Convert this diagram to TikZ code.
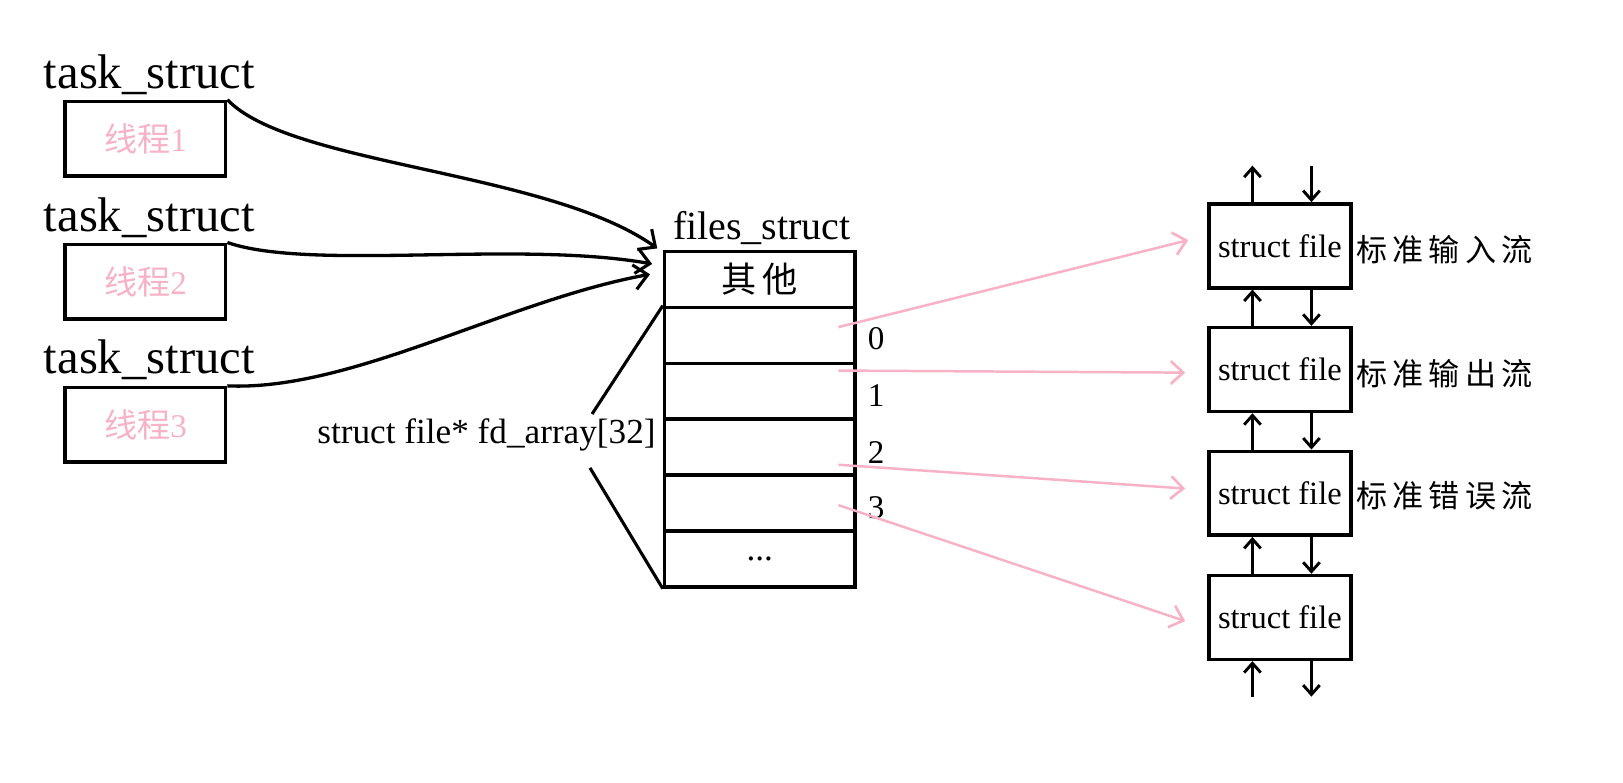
\documentclass[tikz,border=0pt]{standalone}
\usepackage{fontspec}
\setmainfont{Liberation Serif}
\newfontfamily\cjk{Noto Sans CJK SC}
\usetikzlibrary{arrows.meta,calc}
\definecolor{pinkc}{RGB}{247,178,198}
\begin{document}
\begin{tikzpicture}[x=0.5pt,y=-0.5pt,
  taskbox/.style={draw,line width=1.7pt,inner sep=0pt,minimum width=77.5pt,minimum height=36pt,
    text=pinkc,font=\fontsize{16}{18}\selectfont},
  tasklabel/.style={anchor=west,inner sep=0pt,font=\fontsize{23.5}{25}\selectfont},
  cell/.style={draw,line width=1.7pt,inner sep=0pt,minimum width=92pt,minimum height=27pt,
    font=\fontsize{17}{19}\selectfont},
  filebox/.style={draw,line width=1.7pt,inner sep=0pt,minimum width=68.5pt,minimum height=40.5pt,
    font=\fontsize{15.7}{17}\selectfont},
  idx/.style={anchor=west,inner sep=0pt,font=\fontsize{16}{18}\selectfont},
  streamlabel/.style={anchor=west,inner sep=0pt,font=\cjk\fontsize{15}{17}\selectfont},
  bigarrow/.style={line width=1.6pt,-{Straight Barb[length=6.5pt,width=12pt,line width=1.5pt]}},
  pinkarrow/.style={draw=pinkc,line width=1.2pt,-{Straight Barb[length=6pt,width=11pt,line width=1.3pt]}},
  smallarrow/.style={line width=1.6pt,-{Straight Barb[length=4.5pt,width=8pt,line width=1.4pt]}},
  plainline/.style={line width=1.5pt}]
\useasboundingbox (0,0) rectangle (1568,756);

% task structs
\node[tasklabel] (l1) at (42,72) {task\_struct};
\node[tasklabel] (l2) at (42,210) {task\_struct};
\node[tasklabel] (l3) at (42,348) {task\_struct};
\node[taskbox] (t1) at (140.5,134) {{\cjk 线程}1};
\node[taskbox] (t2) at (140.5,272) {{\cjk 线程}2};
\node[taskbox] (t3) at (140.5,410.5) {{\cjk 线程}3};

% files_struct table
\node[inner sep=0pt,font=\fontsize{19.3}{21}\selectfont] (fl) at (736,220) {files\_struct};
\node[cell] (r0) at (734,270) {\cjk 其\,他};
\node[cell] (r1) at (734,324) {};
\node[cell] (r2) at (734,378) {};
\node[cell] (r3) at (734,432) {};
\node[cell] (r4) at (734,486) {};
\node[cell] (r5) at (734,540) {...};

\node[idx] (i0) at (838,327) {0};
\node[idx] (i1) at (838,382) {1};
\node[idx] (i2) at (838,437) {2};
\node[idx] (i3) at (838,490) {3};

% curves into files_struct
\coordinate (e1) at (635,240);
\coordinate (e2) at (630,255);
\coordinate (e3) at (628,265);
\draw[bigarrow] (t1.north east) .. controls (280,160) and (530,165) .. (e1);
\draw[bigarrow] (t2.north east) .. controls (300,262) and (500,232) .. (e2);
\draw[bigarrow] (t3.north east) .. controls (340,378) and (490,290) .. (e3);

% fd_array label
\node[inner sep=0pt,font=\fontsize{17}{19}\selectfont] (fd) at (470,420) {struct file* fd\_array[32]};
\coordinate (fa) at (572,400);
\coordinate (fb) at (570,452);
\draw[plainline] (fa) -- (r1.north west);
\draw[plainline] (fb) -- (r5.south west);

% struct file boxes
\node[filebox] (s1) at (1236.5,237.5) {struct file};
\node[filebox] (s2) at (1236.5,357) {struct file};
\node[filebox] (s3) at (1236.5,476.5) {struct file};
\node[filebox] (s4) at (1236.5,596.5) {struct file};

\node[streamlabel] (n1) at (1310,241) {标\,准\,输\,入\,流};
\node[streamlabel] (n2) at (1310,361) {标\,准\,输\,出\,流};
\node[streamlabel] (n3) at (1310,479) {标\,准\,错\,误\,流};

% pink arrows
\coordinate (p0) at (810,316);
\coordinate (p1) at (810,358);
\coordinate (p2) at (810,449);
\coordinate (p3) at (810,488);
\coordinate (q0) at (1148,232);
\coordinate (q1) at (1145,360);
\coordinate (q2) at (1145,472);
\coordinate (q3) at (1145,600);
\draw[pinkarrow] (p0) -- (q0);
\draw[pinkarrow] (p1) -- (q1);
\draw[pinkarrow] (p2) -- (q2);
\draw[pinkarrow] (p3) -- (q3);

% vertical arrows
\coordinate (topup) at (1210,160);
\coordinate (topdn) at (1267,160);
\coordinate (botup) at (1210,673);
\coordinate (botdn) at (1267,673);
\draw[smallarrow] (s1.north -| topup) -- (topup);
\draw[smallarrow] (topdn) -- (s1.north -| topdn);
\draw[smallarrow] (s2.north -| topup) -- (s1.south -| topup);
\draw[smallarrow] (s1.south -| topdn) -- (s2.north -| topdn);
\draw[smallarrow] (s3.north -| topup) -- (s2.south -| topup);
\draw[smallarrow] (s2.south -| topdn) -- (s3.north -| topdn);
\draw[smallarrow] (s4.north -| topup) -- (s3.south -| topup);
\draw[smallarrow] (s3.south -| topdn) -- (s4.north -| topdn);
\draw[smallarrow] (botup) -- (s4.south -| botup);
\draw[smallarrow] (s4.south -| botdn) -- (botdn);
\end{tikzpicture}
\end{document}
